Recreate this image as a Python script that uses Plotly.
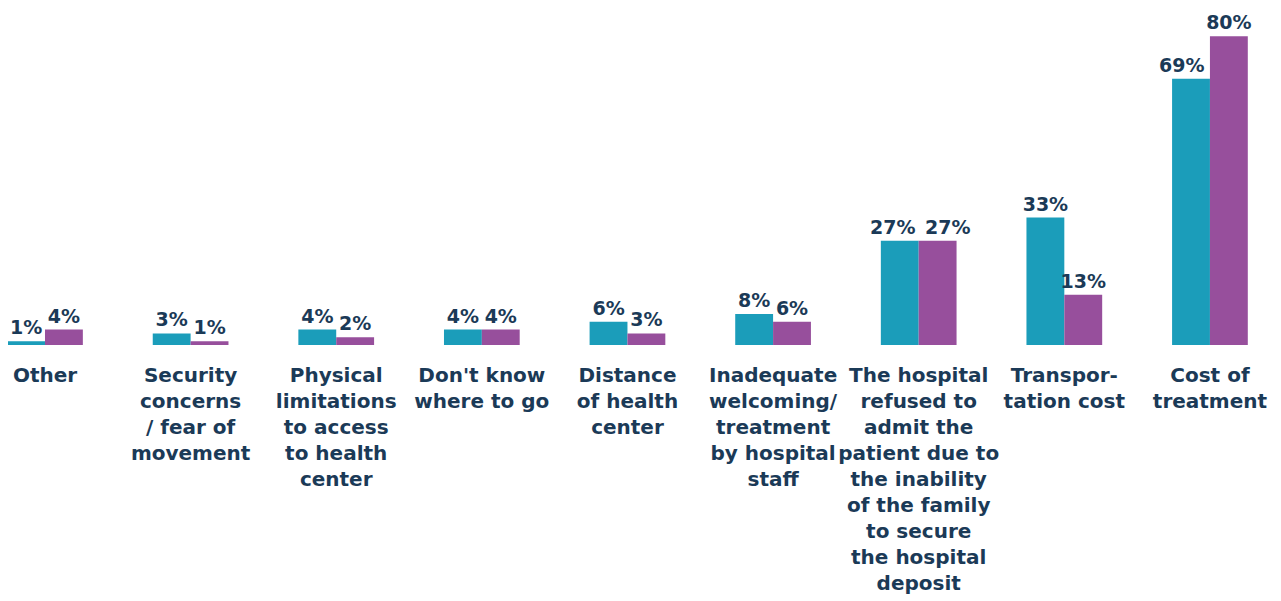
import plotly.graph_objects as go

categories = [
    "Other",
    "Security<br>concerns<br>/ fear of<br>movement",
    "Physical<br>limitations<br>to access<br>to health<br>center",
    "Don't know<br>where to go",
    "Distance<br>of health<br>center",
    "Inadequate<br>welcoming/<br>treatment<br>by hospital<br>staff",
    "The hospital<br>refused to<br>admit the<br>patient due to<br>the inability<br>of the family<br>to secure<br>the hospital<br>deposit",
    "Transpor-<br>tation cost",
    "Cost of<br>treatment",
]
series_a = [1, 3, 4, 4, 6, 8, 27, 33, 69]   # teal
series_b = [4, 1, 2, 4, 3, 6, 27, 13, 80]   # purple

TEAL = "#1b9dba"
PURPLE = "#974f9c"
NAVY = "#1b3a57"
FONT = "DejaVu Sans"
LABEL_FONT = dict(family=FONT, size=19, color=NAVY, weight="bold")

# crowded labels get drawn as annotations nudged apart: (series, index) -> xshift px
nudged = {(0, 6): -26, (1, 6): 29, (0, 8): -28}

series = [series_a, series_b]
colors = [TEAL, PURPLE]

fig = go.Figure()
for s, (vals, col) in enumerate(zip(series, colors)):
    txt = ["" if (s, i) in nudged else f"{v}%" for i, v in enumerate(vals)]
    fig.add_trace(go.Bar(
        x=categories, y=vals,
        marker_color=col,
        marker_line_width=0,
        text=txt,
        textposition="outside",
        textfont=LABEL_FONT,
        constraintext="none",
        cliponaxis=False,
        showlegend=False,
    ))

for (s, i), dx in nudged.items():
    fig.add_annotation(
        x=categories[i], y=series[s][i], xref="x", yref="y",
        text=f"{series[s][i]}%", showarrow=False,
        yanchor="bottom", xshift=dx, yshift=1,
        font=LABEL_FONT,
    )

# page has an 8px body margin, so the figure is sized to fit the window
fig.update_layout(
    barmode="group",
    bargap=0.48,
    bargroupgap=0,
    width=1273, height=593,
    margin=dict(l=0, r=0, t=0, b=256),
    plot_bgcolor="white",
    paper_bgcolor="white",
    font=dict(family=FONT, color=NAVY),
)
fig.update_xaxes(
    range=[-0.254, 8.488],
    showline=False, showgrid=False,
    ticks="outside", ticklen=12, tickcolor="rgba(0,0,0,0)",
    tickfont=dict(family=FONT, size=20, color=NAVY, weight="bold"),
    tickangle=0,
)
fig.update_yaxes(range=[0, 87.3], visible=False)

fig.write_html("out.html")
